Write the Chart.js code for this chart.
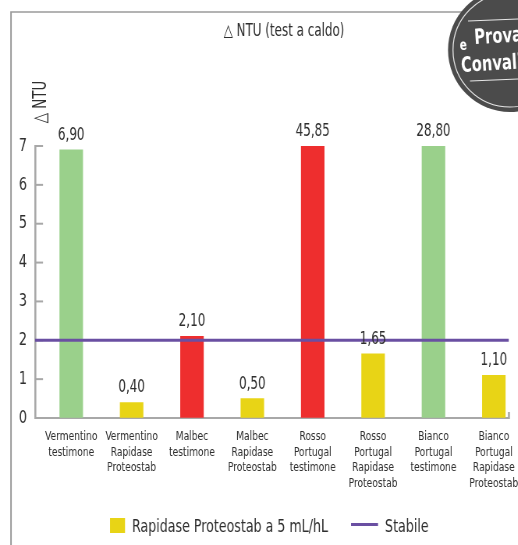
<!DOCTYPE html>
<html>
<head>
<meta charset="utf-8">
<script src="https://cdn.jsdelivr.net/npm/chart.js@4/dist/chart.umd.min.js"></script>
<style>
  html, body { margin:0; padding:0; background:#fff; overflow:hidden; }
  #wrap { width:518px; height:545px; position:relative; overflow:hidden; }
  /* the original uses a condensed face; squeeze the canvas horizontally to get it */
  #chart { transform: scaleX(0.78); transform-origin: 0 0; }
</style>
</head>
<body>
<div id="wrap"><canvas id="chart"></canvas></div>
<script>
// Δ NTU - test a caldo

const categories = [
  ['Vermentino', 'testimone'],
  ['Vermentino', 'Rapidase', 'Proteostab'],
  ['Malbec', 'testimone'],
  ['Malbec', 'Rapidase', 'Proteostab'],
  ['Rosso', 'Portugal', 'testimone'],
  ['Rosso', 'Portugal', 'Rapidase', 'Proteostab'],
  ['Bianco', 'Portugal', 'testimone'],
  ['Bianco', 'Portugal', 'Rapidase', 'Proteostab']
];
const ntuValues = [6.90, 0.40, 2.10, 0.50, 45.85, 1.65, 28.80, 1.10];
const barColors = ['#9ad08b', '#e8d416', '#ee2e2e', '#e8d416', '#ee2e2e', '#e8d416', '#9ad08b', '#e8d416'];
const yTicks = [0, 1, 2, 3, 4, 5, 6, 7];
const stabile = 2;

const K = 0.78;                 // horizontal squeeze, must match the css
const W = 518, H = 545;
const FONT = "'DejaVu Sans Condensed', 'DejaVu Sans', sans-serif";
const GREY = '#a8a8a8';
const TEXT = '#2e2e2e';
const PURPLE = '#6a4fa2';
const YELLOW = '#e8d416';
const X_MIN = -0.6, X_MAX = 7.25;

const canvas = document.getElementById('chart');
canvas.width = Math.round(W / K);
canvas.height = H;

function fmt(v){ return v.toFixed(2).replace('.', ','); }

// text in real (screen) pixels, condensed along the baseline
function cText(ctx, s, x, y, align){
  ctx.save();
  ctx.translate(x, y);
  ctx.scale(K, 1);
  ctx.textAlign = align || 'center';
  ctx.fillText(s, 0, 0);
  ctx.restore();
}

const decor = {
  id: 'decor',
  beforeDraw(chart){
    const ctx = chart.ctx;
    ctx.save();
    ctx.scale(1 / K, 1);
    ctx.strokeStyle = '#9a9a9a';
    ctx.lineWidth = 1.5;
    ctx.beginPath();
    ctx.moveTo(11, H);
    ctx.lineTo(11, 12);
    ctx.lineTo(470, 12);
    ctx.stroke();
    ctx.restore();
  },
  beforeDatasetsDraw(chart){
    // inward tick marks, under the stabile line
    const ctx = chart.ctx;
    const area = chart.chartArea;
    const y = chart.scales.y;
    const left = area.left * K, right = area.right * K;
    ctx.save();
    ctx.scale(1 / K, 1);
    ctx.strokeStyle = GREY;
    ctx.lineWidth = 2;
    yTicks.forEach(t => {
      const py = y.getPixelForValue(t);
      ctx.beginPath();
      ctx.moveTo(left, py);
      ctx.lineTo(left + 8, py);
      ctx.stroke();
    });
    ctx.beginPath();
    ctx.moveTo(right, area.bottom + 1);
    ctx.lineTo(right, area.bottom - 6);
    ctx.stroke();
    ctx.restore();
  },
  afterDatasetsDraw(chart){
    const ctx = chart.ctx;
    const area = chart.chartArea;
    ctx.save();
    ctx.scale(1 / K, 1);

    // value labels
    ctx.fillStyle = TEXT;
    ctx.textBaseline = 'alphabetic';
    ctx.font = '17px ' + FONT;
    chart.getDatasetMeta(0).data.forEach((bar, i) => {
      const top = Math.max(bar.y, area.top);
      cText(ctx, fmt(ntuValues[i]), bar.x * K, top - 10);
    });

    // titles
    cText(ctx, '\u25B3 NTU (test a caldo)', 284, 36);
    ctx.save();
    ctx.translate(46, 102);
    ctx.rotate(-Math.PI / 2);
    ctx.font = '19px ' + FONT;
    cText(ctx, '\u25B3 NTU', 0, 0);
    ctx.restore();

    // legend
    const ds = chart.data.datasets;
    ctx.font = '18px ' + FONT;
    let lx = 110;
    ctx.fillStyle = YELLOW;
    ctx.fillRect(lx, 518, 15, 15);
    lx += 22;
    ctx.fillStyle = TEXT;
    cText(ctx, ds[0].label, lx, 532, 'left');
    lx += ctx.measureText(ds[0].label).width * K + 23;
    ctx.fillStyle = PURPLE;
    ctx.fillRect(lx, 523, 27, 3);
    lx += 34;
    ctx.fillStyle = TEXT;
    cText(ctx, ds[1].label, lx, 532, 'left');

    // badge
    ctx.fillStyle = '#4b4b4b';
    ctx.beginPath();
    ctx.arc(510, 50, 62, 0, Math.PI * 2);
    ctx.fill();
    ctx.strokeStyle = '#e6e6e6';
    ctx.lineWidth = 1;
    ctx.beginPath();
    ctx.arc(510, 50, 57, 0, Math.PI * 2);
    ctx.stroke();
    ctx.lineWidth = 1.2;
    ctx.beginPath();
    ctx.moveTo(468, 21); ctx.lineTo(518, 19);
    ctx.moveTo(470, 81); ctx.lineTo(518, 79);
    ctx.stroke();
    ctx.fillStyle = '#ffffff';
    ctx.translate(460, 50);
    ctx.rotate(-0.06);
    ctx.font = 'bold 21px ' + FONT;
    cText(ctx, 'Prova', 15, -5, 'left');
    ctx.font = 'bold 15px ' + FONT;
    cText(ctx, 'e', 0, 0, 'left');
    ctx.font = 'bold 21px ' + FONT;
    cText(ctx, 'Convalida', 0, 22, 'left');
    ctx.restore();
  }
};

new Chart(canvas, {
  data: {
    datasets: [
      {
        type: 'bar',
        label: 'Rapidase Proteostab a 5 mL/hL',
        data: ntuValues.map((v, i) => ({ x: i, y: v })),
        backgroundColor: barColors,
        barThickness: 23 / K,
        order: 1
      },
      {
        type: 'line',
        label: 'Stabile',
        data: [{ x: X_MIN, y: stabile }, { x: X_MAX, y: stabile }],
        borderColor: PURPLE,
        borderWidth: 3,
        pointRadius: 0,
        order: 0
      }
    ]
  },
  options: {
    responsive: false,
    animation: false,
    devicePixelRatio: 1,
    layout: { padding: { top: 146, right: 9 / K, left: 0, bottom: 47 } },
    scales: {
      x: {
        type: 'linear',
        min: X_MIN,
        max: X_MAX,
        offset: false,
        afterBuildTicks: s => { s.ticks = categories.map((c, i) => ({ value: i })); },
        afterFit: s => { s.paddingLeft = 0; s.paddingRight = 0; s.height = 80; },
        grid: { display: false, drawTicks: false },
        border: { color: GREY, width: 2 },
        ticks: {
          autoSkip: false,
          maxRotation: 0,
          padding: 11,
          color: TEXT,
          font: { family: FONT, size: 13, lineHeight: 1.2 },
          callback: v => categories[v]
        }
      },
      y: {
        min: 0,
        max: 7,
        afterBuildTicks: s => { s.ticks = yTicks.map(t => ({ value: t })); },
        afterFit: s => { s.width = 35 / K; s.paddingTop = 0; s.paddingBottom = 0; },
        grid: { drawOnChartArea: false, drawTicks: false },
        border: { color: GREY, width: 2 / K },
        ticks: {
          padding: 8 / K,
          color: TEXT,
          font: { family: FONT, size: 18 }
        }
      }
    },
    plugins: {
      tooltip: { enabled: false },
      legend: { display: false }
    }
  },
  plugins: [decor]
});
</script>
</body>
</html>
